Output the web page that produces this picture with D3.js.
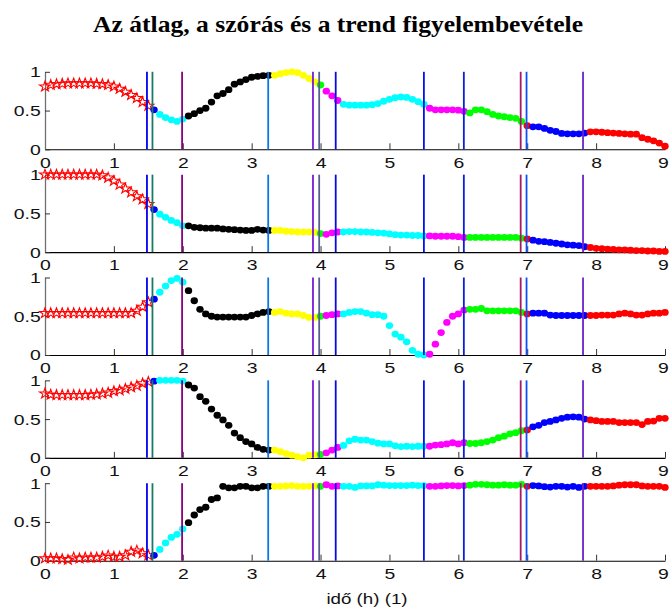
<!DOCTYPE html>
<html>
<head>
<meta charset="utf-8">
<script src="https://cdn.jsdelivr.net/npm/d3@7/dist/d3.min.js"></script>
<style>
  html, body { margin: 0; padding: 0; background: #fff; }
  svg { display: block; }
</style>
</head>
<body>
<svg id="chart" width="669" height="610"></svg>
<script>
// Sampling: one sample every 5 minutes over 9 hours
const sampleStep = 1 / 12;
const sampleCount = 109;

// Segments found by the change-point search: marker colour and length (samples)
const segColors  = ["star", "#0000ff", "#00ffff", "#000000", "#ffff00", "#00ff00", "#ff00ff",
                    "#00ffff", "#ff00ff", "#00ff00", "#ff0000", "#0000ff", "#ff0000"];
const segLengths = [19, 1, 5, 15, 8, 1, 3, 15, 7, 10, 1, 10, 14];

// Detected change points (h) and their line colours
const changeTimes  = [1.48, 1.56, 1.99, 3.24, 3.89, 3.98, 4.22, 5.50, 6.08, 6.905, 6.99, 7.81];
const changeColors = ["#0000f0", "#1a7a66", "#8a007a", "#0a78e6", "#7a1ad6", "#56608c",
                      "#0a0ae0", "#0010f0", "#0a20d8", "#a8186a", "#0a50ff", "#6a24c8"];

// Normalised signals (0..1), one per panel
const series1 = [0.81,0.83,0.84,0.845,0.85,0.85,0.85,0.85,0.85,0.845,0.84,0.83,0.81,0.78,0.74,0.70,0.66,0.61,0.56,
  0.51,
  0.45,0.41,0.38,0.36,0.39,
  0.43,0.46,0.50,0.53,0.61,0.69,0.72,0.77,0.84,0.87,0.90,0.93,0.94,0.95,0.955,
  0.955,0.975,0.99,1.0,0.99,0.955,0.915,0.87,
  0.83,
  0.75,0.69,0.63,
  0.58,0.57,0.57,0.57,0.57,0.575,0.59,0.62,0.645,0.665,0.675,0.67,0.645,0.615,0.58,
  0.53,0.51,0.51,0.51,0.51,0.505,0.49,
  0.47,0.51,0.51,0.485,0.45,0.43,0.42,0.41,0.40,0.36,
  0.305,
  0.29,0.29,0.27,0.245,0.23,0.205,0.20,0.20,0.20,0.21,
  0.225,0.225,0.22,0.215,0.21,0.205,0.20,0.195,0.195,0.15,0.13,0.11,0.08,0.04];

const series2 = [1,1,1,1,1,1,1,1,1,1,0.99,0.96,0.92,0.87,0.82,0.77,0.72,0.68,0.62,
  0.55,
  0.49,0.45,0.41,0.38,0.34,
  0.34,0.32,0.315,0.31,0.31,0.31,0.30,0.295,0.29,0.285,0.28,0.28,0.295,0.285,0.28,
  0.28,0.28,0.27,0.265,0.26,0.26,0.26,0.255,
  0.24,
  0.23,0.25,0.26,
  0.26,0.265,0.265,0.26,0.26,0.255,0.25,0.245,0.235,0.225,0.22,0.22,0.215,0.215,0.21,
  0.21,0.205,0.205,0.205,0.205,0.20,0.19,
  0.19,0.19,0.19,0.19,0.19,0.19,0.19,0.19,0.19,0.18,
  0.17,
  0.155,0.14,0.135,0.125,0.115,0.105,0.095,0.09,0.085,0.07,
  0.06,0.05,0.045,0.04,0.035,0.03,0.03,0.025,0.02,0.02,0.015,0.015,0.01,0.01];

const series3 = [0.54,0.54,0.54,0.54,0.54,0.54,0.54,0.54,0.54,0.54,0.54,0.54,0.54,0.54,0.54,0.54,0.57,0.62,0.68,
  0.72,
  0.81,0.89,0.96,0.99,0.94,
  0.83,0.70,0.59,0.53,0.50,0.49,0.49,0.49,0.49,0.49,0.49,0.51,0.53,0.55,0.56,
  0.55,0.56,0.54,0.53,0.53,0.51,0.485,0.485,
  0.50,
  0.51,0.52,0.53,
  0.53,0.55,0.56,0.56,0.54,0.52,0.52,0.50,0.38,0.27,0.23,0.17,0.06,0.01,0.0,
  0.01,0.14,0.29,0.42,0.50,0.53,0.58,
  0.59,0.59,0.60,0.57,0.57,0.57,0.57,0.57,0.57,0.55,
  0.53,
  0.54,0.54,0.54,0.515,0.51,0.51,0.51,0.51,0.51,0.51,
  0.51,0.51,0.515,0.515,0.515,0.53,0.54,0.53,0.515,0.515,0.53,0.54,0.54,0.55];

const series4 = [0.83,0.815,0.81,0.81,0.81,0.81,0.81,0.81,0.815,0.82,0.83,0.84,0.86,0.87,0.89,0.91,0.93,0.96,0.98,
  0.99,
  1.0,1.0,1.0,1.0,0.99,
  0.94,0.90,0.79,0.73,0.63,0.55,0.49,0.42,0.32,0.26,0.21,0.18,0.135,0.11,0.10,
  0.10,0.08,0.055,0.035,0.015,0.0,0.035,0.04,
  0.045,
  0.065,0.10,0.135,
  0.16,0.22,0.24,0.23,0.23,0.21,0.19,0.18,0.18,0.155,0.145,0.15,0.145,0.15,0.15,
  0.15,0.165,0.17,0.18,0.195,0.18,0.195,
  0.185,0.185,0.195,0.21,0.23,0.26,0.28,0.31,0.325,0.35,
  0.36,
  0.40,0.42,0.455,0.47,0.49,0.51,0.525,0.53,0.525,0.50,
  0.49,0.48,0.47,0.47,0.47,0.455,0.455,0.455,0.455,0.43,0.47,0.475,0.51,0.51];

const series5 = [0.03,0.03,0.03,0.02,0.01,0.04,0.03,0.04,0.04,0.04,0.05,0.065,0.05,0.05,0.07,0.115,0.13,0.095,0.07,
  0.07,
  0.145,0.23,0.30,0.34,0.41,
  0.49,0.59,0.66,0.69,0.79,0.81,0.96,0.94,0.94,0.96,0.96,0.94,0.94,0.96,0.96,
  0.96,0.96,0.965,0.97,0.96,0.96,0.96,0.965,
  0.96,
  0.98,0.96,0.965,
  0.96,0.96,0.945,0.965,0.965,0.965,0.98,0.975,0.97,0.97,0.97,0.97,0.975,0.97,0.97,
  0.96,0.96,0.965,0.97,0.97,0.965,0.97,
  0.975,0.985,0.985,0.98,0.975,0.975,0.98,0.975,0.975,0.985,
  0.96,
  0.97,0.965,0.955,0.95,0.96,0.96,0.95,0.96,0.945,0.96,
  0.96,0.96,0.96,0.96,0.965,0.975,0.98,0.98,0.98,0.965,0.96,0.96,0.96,0.945];

const panels = [series1, series2, series3, series4, series5];

// Axis ticks
const xTicks = [0, 1, 2, 3, 4, 5, 6, 7, 8, 9];
const yTicks = [0, 0.5, 1];
const yTickLabels = ["0", "0.5", "1"];

const titleText = "Az átlag, a szórás és a trend figyelembevétele";
const xLabelText = "idő (h) (1)";

// ---- layout ----
const svg = d3.select("#chart");
const textStretch = 1.25;
const fontFam = "'Liberation Sans', Arial, Helvetica, sans-serif";
const panelBottom0 = 149.3, panelStep = 102.85, panelHeight = 77.5;

const x = d3.scaleLinear().domain([0, 9]).range([45, 665]);

// segment index -> colour for every sample
const sampleColor = [];
segLengths.forEach((n, k) => { for (let j = 0; j < n; j++) sampleColor.push(segColors[k]); });

const starPath = d3.symbol().type(d3.symbolStar).size(32)();

panels.forEach((values, p) => {
  const bottom = panelBottom0 + p * panelStep;
  const y = d3.scaleLinear().domain([0, 1]).range([bottom, bottom - panelHeight]);
  const g = svg.append("g");

  const pts = values.map((v, i) => ({ t: i * sampleStep, v, c: sampleColor[i] }));

  // x axis with inward ticks
  const gx = g.append("g")
    .attr("transform", `translate(0,${y(0)})`)
    .call(d3.axisBottom(x).tickValues(xTicks).tickFormat(d3.format("d"))
      .tickSize(-6).tickSizeOuter(0).tickPadding(7.3));
  gx.attr("font-size", 15.5).attr("font-family", fontFam);
  gx.select(".domain").attr("stroke", "#000").attr("stroke-width", 1.1);
  gx.selectAll(".tick line").attr("stroke", "#333");
  gx.selectAll(".tick text").attr("fill", "#111")
    .attr("dx", d => d === 9 ? -1.6 : 0)
    .attr("transform", `scale(${textStretch},1)`);

  // y axis with inward ticks
  const gy = g.append("g")
    .attr("transform", `translate(${x(0)},0)`)
    .call(d3.axisLeft(y).tickValues(yTicks).tickFormat((d, i) => yTickLabels[i])
      .tickSize(-5).tickSizeOuter(0).tickPadding(4));
  gy.attr("font-size", 15.5).attr("font-family", fontFam);
  gy.select(".domain").attr("stroke", "#707070").attr("stroke-width", 1.3);
  gy.selectAll(".tick line").attr("stroke", "#333");
  gy.selectAll(".tick text").attr("fill", "#111")
    .attr("x", -4.3 / textStretch)
    .attr("transform", `scale(${textStretch},1)`);

  // markers: red outline stars for the initial segment, filled dots afterwards
  g.append("g").selectAll("path")
    .data(pts.filter(d => d.c === "star"))
    .join("path")
    .attr("d", starPath)
    .attr("transform", d => `translate(${x(d.t)},${y(d.v)}) scale(1.1,1)`)
    .attr("fill", "none")
    .attr("stroke", "#ff0000")
    .attr("stroke-width", 1);

  g.append("g").selectAll("ellipse")
    .data(pts.filter(d => d.c !== "star"))
    .join("ellipse")
    .attr("cx", d => x(d.t))
    .attr("cy", d => y(d.v))
    .attr("rx", 3.7)
    .attr("ry", 3.4)
    .attr("fill", d => d.c);

  // change-point lines over the markers
  g.append("g").selectAll("line")
    .data(changeTimes.map((t, i) => ({ t, c: changeColors[i] })))
    .join("line")
    .attr("x1", d => x(d.t)).attr("x2", d => x(d.t))
    .attr("y1", y(1)).attr("y2", y(0))
    .attr("stroke", d => d.c)
    .attr("stroke-width", 1.8);
});

// title
svg.append("text")
  .attr("x", 338).attr("y", 32)
  .attr("text-anchor", "middle")
  .attr("font-family", "'Liberation Serif', 'Times New Roman', serif")
  .attr("font-weight", "bold")
  .attr("font-size", 24)
  .attr("textLength", 490)
  .attr("lengthAdjust", "spacingAndGlyphs")
  .text(titleText);

// x label
svg.append("text")
  .attr("transform", `translate(367,604) scale(${textStretch},1)`)
  .attr("text-anchor", "middle")
  .attr("font-family", fontFam)
  .attr("font-size", 15)
  .attr("fill", "#111")
  .text(xLabelText);
</script>
</body>
</html>
